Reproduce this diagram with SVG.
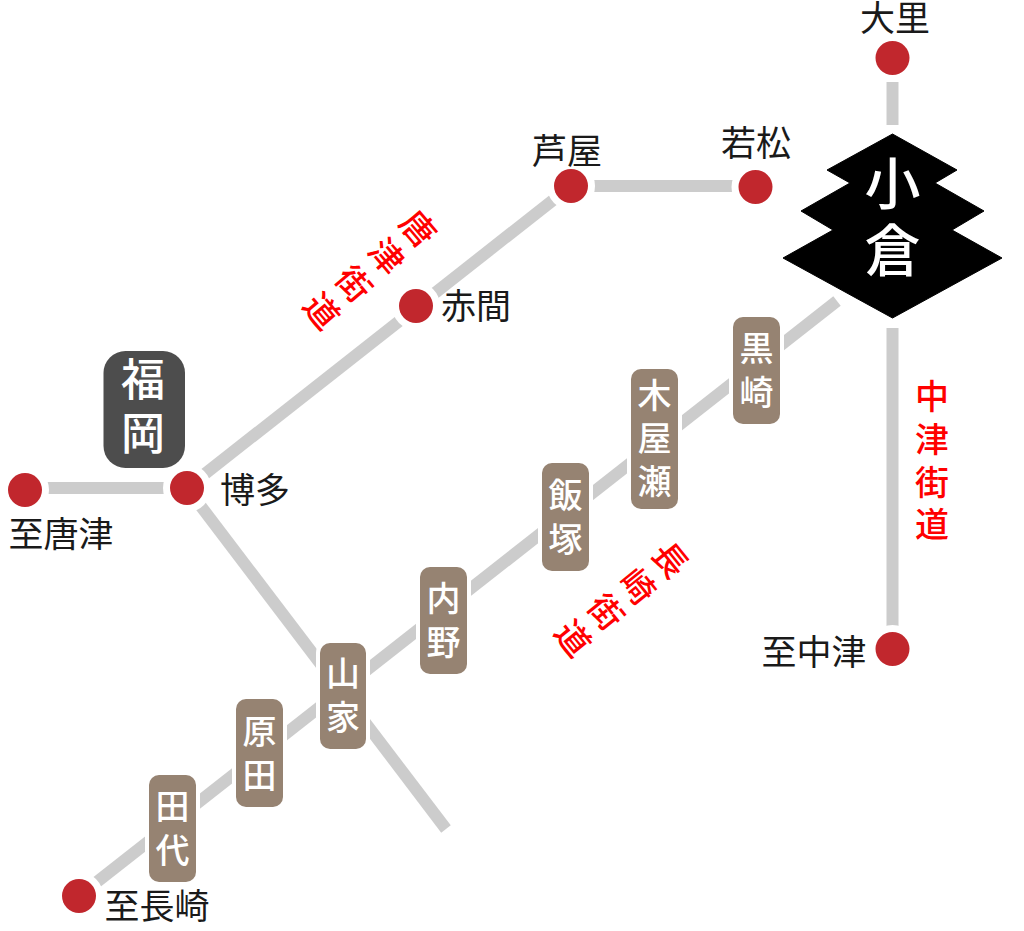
<svg xmlns="http://www.w3.org/2000/svg" width="1024" height="931" viewBox="0 0 1024 931">
<style>
text{font-family:"Noto Sans CJK JP","Noto Sans CJK SC",sans-serif;text-anchor:middle}
.line{stroke:#ccc;stroke-width:12;fill:none}
.dot{fill:#c1272d;stroke:#fff;stroke-width:14;paint-order:stroke}
.lbl{font-size:35px;fill:#1a1a1a;font-weight:400}
.box{fill:#968372;stroke:#fff;stroke-width:8;paint-order:stroke}
.st{font-size:34px;fill:#fff;font-weight:500}
.road{font-size:34px;fill:#f00;font-weight:500}
</style>
<rect width="1024" height="931" fill="#fff"/>
<g id="connectors">
<line class="line" x1="892.500" y1="82" x2="892.500" y2="125"/>
<line class="line" x1="892.500" y1="328" x2="892.500" y2="649"/>
<line class="line" x1="571" y1="186" x2="755" y2="186"/>
<line class="line" x1="25" y1="488" x2="187" y2="488"/>
<line class="line" x1="187" y1="488" x2="571" y2="186"/>
<line class="line" x1="187" y1="488" x2="446" y2="829"/>
<line class="line" x1="79" y1="896" x2="837" y2="301"/>
</g>
<g id="oguri">
<polygon fill="#000" stroke="#000" stroke-width="1" stroke-linejoin="round" points="892.500,134 957,170 935,183 984,211 952,230 1002,258 892.500,318 783,258 833,230 801,211 850,183 827,170"/>
<text style="font-size:56px;font-weight:500" fill="#fff"><tspan x="892.500" y="204">小</tspan><tspan x="892.500" y="271">倉</tspan></text>
</g>
<g id="fukuoka">
<rect x="103.500" y="351" width="81.500" height="117" rx="22" fill="#4d4d4d"/>
<text style="font-size:44px;font-weight:500" fill="#fff"><tspan x="143" y="396">福</tspan><tspan x="143" y="450">岡</tspan></text>
</g>
<g id="oosato"><circle class="dot" cx="892.500" cy="58" r="17"/><text class="lbl" x="895" y="31">大里</text></g>
<g id="wakamatsu"><circle class="dot" cx="755.500" cy="187" r="17"/><text class="lbl" x="756" y="156">若松</text></g>
<g id="ashiya"><circle class="dot" cx="571" cy="186" r="17"/><text class="lbl" x="567" y="164">芦屋</text></g>
<g id="akama"><circle class="dot" cx="416" cy="306" r="17"/><text class="lbl" x="476" y="319">赤間</text></g>
<g id="hakata"><circle class="dot" cx="187" cy="488" r="17"/><text class="lbl" x="255" y="503">博多</text></g>
<g id="karatsu"><circle class="dot" cx="25" cy="490" r="17"/><text class="lbl" x="61" y="547">至唐津</text></g>
<g id="nakatsu"><circle class="dot" cx="892.500" cy="649" r="17"/><text class="lbl" x="814" y="665">至中津</text></g>
<g id="nagasaki"><circle class="dot" cx="79" cy="896" r="17"/><text class="lbl" x="157" y="919">至長崎</text></g>
<g id="kurosaki"><rect class="box" x="733" y="317" width="47" height="107" rx="10"/><text class="st"><tspan x="756.500" y="361">黒</tspan><tspan x="756.500" y="405">崎</tspan></text></g>
<g id="koyanose"><rect class="box" x="631" y="369" width="47" height="140" rx="10"/><text class="st"><tspan x="654.500" y="408">木</tspan><tspan x="654.500" y="451">屋</tspan><tspan x="654.500" y="494">瀬</tspan></text></g>
<g id="iizuka"><rect class="box" x="542" y="463" width="47" height="108" rx="10"/><text class="st"><tspan x="565.500" y="508">飯</tspan><tspan x="565.500" y="552">塚</tspan></text></g>
<g id="uchino"><rect class="box" x="420" y="567" width="47" height="107" rx="10"/><text class="st"><tspan x="443.500" y="611">内</tspan><tspan x="443.500" y="655">野</tspan></text></g>
<g id="yamae"><rect class="box" x="320" y="643" width="46" height="106" rx="10"/><text class="st"><tspan x="343" y="686">山</tspan><tspan x="343" y="730">家</tspan></text></g>
<g id="harada"><rect class="box" x="236" y="699" width="47" height="108" rx="10"/><text class="st"><tspan x="259.500" y="744">原</tspan><tspan x="259.500" y="788">田</tspan></text></g>
<g id="tashiro"><rect class="box" x="149" y="775" width="47" height="107" rx="10"/><text class="st"><tspan x="172.500" y="819">田</tspan><tspan x="172.500" y="863">代</tspan></text></g>
<g id="road-nakatsu"><text class="road"><tspan x="932" y="409">中</tspan><tspan x="932" y="452">津</tspan><tspan x="932" y="495">街</tspan><tspan x="932" y="537">道</tspan></text></g>
<g id="road-karatsu" transform="translate(418 229) rotate(49.5)"><text class="road"><tspan x="0" y="12">唐</tspan><tspan x="0" y="54">津</tspan><tspan x="0" y="97">街</tspan><tspan x="0" y="139">道</tspan></text></g>
<g id="road-nagasaki" transform="translate(670 560) rotate(51)"><text class="road"><tspan x="0" y="12">長</tspan><tspan x="0" y="54">崎</tspan><tspan x="0" y="95">街</tspan><tspan x="0" y="137">道</tspan></text></g>
</svg>
